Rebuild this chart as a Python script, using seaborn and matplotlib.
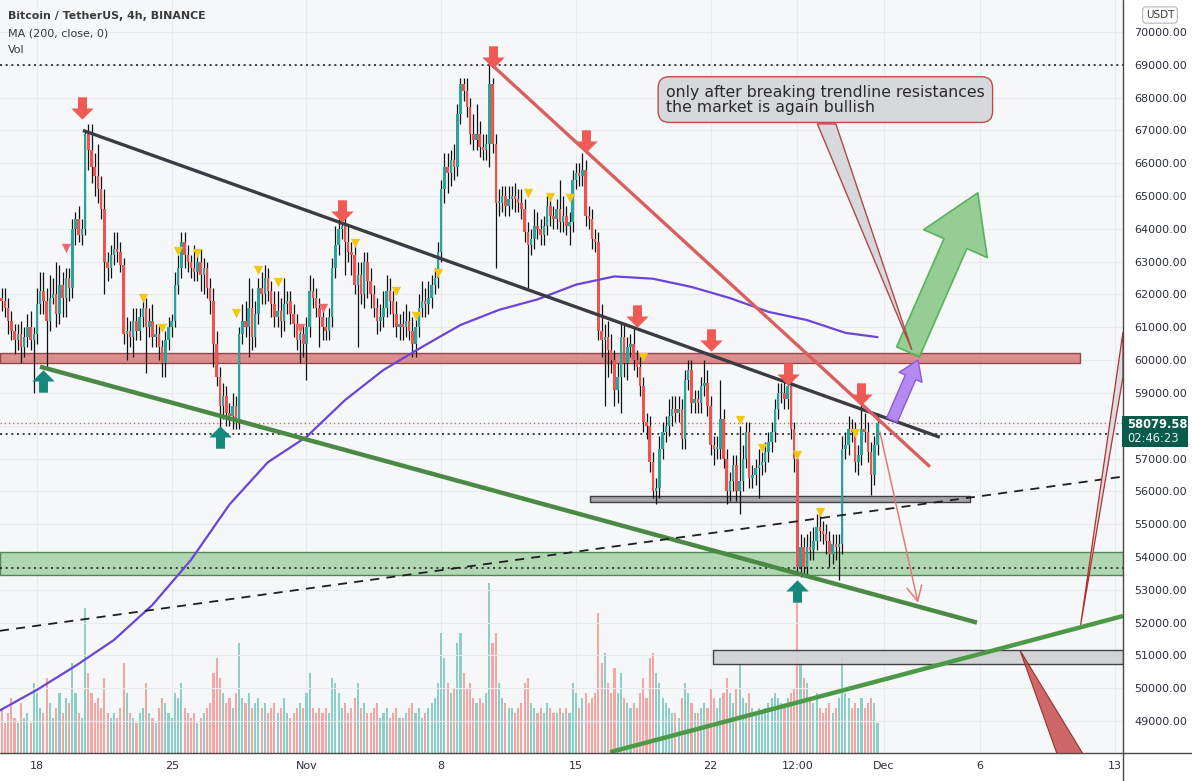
import numpy as np
import pandas as pd
import matplotlib
matplotlib.use('Agg')
import matplotlib.pyplot as plt
import matplotlib.dates as mdates
from matplotlib.path import Path
from matplotlib.patches import Polygon
from matplotlib.transforms import Bbox, TransformedBbox
import seaborn as sns

# ---------------- data (prices in thousands of USDT) ----------------
closes = [
    61.8, 61.6, 61.2, 60.9, 60.6, 60.8, 60.4, 60.7, 61.0, 60.6,
    60.8, 61.7, 62.1, 61.8, 61.2, 61.9, 62.0, 61.4, 62.3, 61.9,
    62.5, 62.2, 64.0, 64.3, 63.8, 64.0, 66.9, 66.4, 65.9, 65.6,
    65.2, 64.6, 63.0, 62.8, 63.2,
    63.4, 63.3, 62.9, 60.8, 60.9, 60.7, 61.2, 60.9, 61.3, 61.6,
    61.0, 61.2, 60.7, 60.8, 60.4, 59.9, 60.6, 61.0, 61.2, 62.3,
    62.8, 63.6, 63.2, 63.0, 62.8, 62.7, 63.0, 62.6, 62.8, 62.2,
    61.8, 60.5, 59.5, 58.6, 58.9, 58.4,
    58.3, 58.6, 58.2, 60.8, 61.2, 61.0, 61.6, 60.7, 61.4, 62.2,
    62.0, 62.5, 62.1, 61.7, 61.3, 61.5, 61.2, 61.7, 61.8, 61.4,
    61.1, 60.6, 60.8, 60.5, 61.0, 62.1, 61.9, 61.6, 61.3, 61.0,
    60.9, 61.3, 62.8, 63.5,
    64.0, 64.1, 63.6, 63.3, 63.2, 62.3, 62.6, 62.0, 63.0, 62.4,
    62.0, 61.6, 61.2, 61.3, 61.6, 62.1, 61.8, 61.4, 61.0, 61.1,
    61.0, 61.2, 60.9, 60.5, 61.0, 61.6, 61.8, 61.7, 61.9, 62.3,
    62.5, 63.3, 65.2, 65.9,
    65.7, 66.1, 65.9, 67.5, 68.4, 68.2, 67.7, 66.9, 66.7, 66.9,
    66.5, 66.4, 66.6, 68.4, 66.6, 64.8, 64.8, 65.0, 64.7, 64.9,
    65.0, 64.9, 64.8, 64.6, 63.9, 63.5, 63.7, 64.1, 64.0, 63.8,
    64.1, 64.7, 64.4, 64.3,
    64.6, 64.2, 64.4, 64.1, 64.2, 65.5, 65.7, 65.6, 65.8, 64.4,
    64.3, 63.7, 63.6, 60.9, 60.6, 60.7, 60.3, 60.0, 59.1, 59.5,
    60.7, 59.9, 60.4, 60.5, 60.0, 59.8, 59.2, 58.1, 58.0, 56.9,
    56.0, 56.1, 57.3, 57.8,
    58.0, 58.3, 58.5, 58.4, 58.5, 57.6, 59.4, 59.7, 58.7, 58.8,
    58.7, 59.2, 59.3, 58.6, 57.4, 57.3, 57.3, 58.2, 57.0, 56.0,
    56.3, 56.8, 56.0, 56.3, 57.0, 57.8, 56.4, 56.5, 56.7, 56.8,
    56.9, 57.2, 57.5, 57.8,
    58.5, 59.0, 59.0, 58.8, 59.2, 57.9, 57.0, 53.7, 54.3, 53.7,
    54.3, 54.2, 54.5, 54.9, 54.8, 54.7, 54.5, 54.1, 54.4, 54.3,
    54.4, 57.3, 57.4, 57.9, 57.8, 56.9, 57.1, 57.9, 57.8, 57.2,
    56.5, 57.4, 58.07958,
]
upper_wicks = [
    0.3, 0.4, 0.3, 0.3, 0.2, 0.3, 0.4, 0.3, 0.4, 0.5,
    0.2, 0.5, 0.6, 0.6, 0.4, 0.7, 0.5, 1.0, 0.6, 0.4,
    0.3, 0.3, 0.3, 0.2, 0.4, 0.3, 0.1, 0.3, 0.8, 0.4,
    1.0, 0.4, 0.6, 0.3, 0.3,
    0.5, 0.5, 0.3, 0.2, 0.4, 0.3, 0.4, 0.4, 0.3, 0.3,
    0.3, 0.4, 0.5, 0.3, 0.3, 0.2, 0.3, 0.3, 0.2, 0.4,
    0.4, 0.3, 0.3, 0.3, 0.2, 0.7, 0.3, 0.4, 0.3, 0.2,
    0.3, 0.4, 0.4, 0.3, 0.4, 0.3,
    0.3, 0.4, 0.3, 0.2, 0.5, 0.6, 0.9, 0.6, 0.4, 0.3,
    0.5, 0.4, 0.3, 0.3, 0.4, 0.6, 0.4, 0.8, 0.3, 0.3,
    0.3, 0.3, 0.3, 0.3, 0.3, 0.5, 0.4, 0.3, 0.3, 0.3,
    0.3, 0.3, 0.3, 0.6,
    0.3, 0.2, 0.3, 0.5, 0.3, 0.4, 0.4, 0.4, 0.3, 0.3,
    0.4, 0.3, 0.3, 0.4, 0.5, 0.5, 0.4, 0.3, 0.4, 0.3,
    0.4, 0.5, 0.3, 0.4, 0.3, 0.4, 0.6, 0.4, 0.5, 0.3,
    0.3, 0.3, 0.3, 0.4,
    0.4, 0.3, 0.5, 0.3, 0.2, 0.2, 0.4, 0.3, 0.6, 0.9,
    0.4, 0.4, 0.3, 0.6, 0.2, 0.3, 0.4, 0.3, 0.3, 0.4,
    0.3, 0.4, 0.3, 0.4, 0.3, 0.3, 0.3, 0.5, 0.4, 0.3,
    0.3, 0.3, 0.3, 0.3,
    0.3, 0.9, 0.6, 0.3, 0.3, 0.3, 0.3, 0.3, 0.5, 0.3,
    0.3, 0.3, 0.3, 0.3, 0.8, 0.4, 0.5, 0.5, 0.3, 0.4,
    0.4, 0.4, 0.3, 0.3, 0.5, 0.3, 0.3, 0.3, 0.3, 0.3,
    0.3, 0.3, 0.4, 0.3,
    0.3, 0.5, 0.4, 0.4, 0.4, 0.3, 0.3, 0.3, 0.3, 0.3,
    0.3, 0.3, 0.7, 0.4, 0.3, 0.3, 0.4, 1.2, 0.3, 0.3,
    0.3, 0.3, 0.3, 1.7, 0.4, 0.3, 0.3, 0.3, 0.3, 0.5,
    0.3, 0.3, 0.3, 0.3,
    0.3, 0.3, 0.3, 0.5, 0.3, 0.3, 0.2, 0.2, 0.4, 0.3,
    0.4, 0.5, 0.4, 0.4, 0.4, 0.3, 0.3, 0.3, 0.3, 0.3,
    0.3, 0.4, 0.4, 0.4, 0.3, 0.3, 0.3, 1.0, 0.5, 0.3,
    0.3, 0.3, 0.3,
]
lower_wicks = [
    0.3, 0.3, 0.4, 0.3, 0.4, 0.3, 0.5, 0.3, 0.3, 0.3,
    1.6, 0.3, 0.3, 0.4, 1.4, 0.3, 0.2, 0.4, 0.3, 0.6,
    0.6, 0.4, 0.3, 0.5, 0.2, 0.3, 0.2, 0.6, 0.5, 0.6,
    0.4, 0.3, 1.0, 0.4, 0.3,
    0.3, 0.3, 0.2, 0.3, 0.8, 0.3, 0.6, 0.3, 0.3, 0.3,
    1.4, 0.3, 0.3, 0.3, 0.4, 0.4, 0.4, 0.3, 0.3, 0.2,
    0.3, 0.3, 0.4, 0.3, 0.3, 0.3, 0.3, 0.5, 0.6, 0.3,
    0.4, 0.7, 0.3, 0.7, 0.4, 0.4,
    0.3, 0.4, 0.3, 0.3, 0.3, 0.3, 0.9, 0.4, 0.3, 0.3,
    0.3, 0.3, 0.3, 0.4, 0.3, 0.3, 0.5, 0.3, 0.3, 0.3,
    0.4, 0.3, 0.7, 0.4, 1.1, 0.3, 0.3, 0.3, 0.9, 0.4,
    0.3, 0.3, 0.3, 0.3,
    0.3, 0.3, 1.0, 0.3, 0.6, 0.3, 1.9, 0.3, 0.4, 0.5,
    0.4, 0.3, 0.4, 0.3, 0.3, 0.3, 0.4, 0.4, 0.3, 0.4,
    0.4, 0.3, 0.3, 0.4, 0.4, 0.3, 0.3, 0.4, 0.3, 0.3,
    0.3, 0.3, 0.3, 0.4,
    0.6, 0.4, 0.4, 0.3, 0.3, 0.3, 0.3, 0.3, 0.3, 0.3,
    0.3, 0.3, 0.3, 0.7, 0.3, 2.0, 0.4, 0.3, 0.3, 0.3,
    0.3, 0.4, 0.3, 0.3, 0.3, 1.3, 0.3, 0.3, 0.3, 0.3,
    0.3, 0.3, 0.3, 0.3,
    0.3, 0.3, 0.3, 0.3, 0.6, 0.3, 0.3, 0.3, 0.3, 0.3,
    0.3, 0.3, 0.3, 0.3, 0.5, 2.0, 0.8, 0.4, 0.5, 0.4,
    1.1, 0.4, 0.5, 0.3, 0.3, 0.3, 0.3, 0.3, 0.4, 0.3,
    0.2, 0.4, 0.3, 0.3,
    0.3, 0.3, 0.3, 0.3, 0.3, 0.3, 0.3, 0.3, 0.3, 0.3,
    0.3, 0.3, 0.3, 0.3, 0.3, 0.5, 0.3, 0.3, 0.3, 0.4,
    0.3, 0.3, 0.3, 0.7, 0.3, 0.3, 0.3, 0.3, 0.3, 0.9,
    0.3, 0.3, 0.3, 0.3,
    0.3, 0.3, 0.3, 0.3, 0.3, 0.3, 0.4, 0.2, 0.3, 0.2,
    0.3, 0.3, 0.3, 0.3, 0.3, 0.3, 0.4, 0.4, 0.3, 0.4,
    1.0, 0.3, 0.3, 0.3, 0.3, 0.3, 0.4, 0.3, 0.3, 0.3,
    0.6, 0.3, 0.3,
]
volumes = [
    45, 30, 40, 55, 35, 30, 50, 35, 40, 30,
    70, 60, 45, 40, 75, 50, 35, 45, 60, 40,
    55, 50, 90, 60, 40, 35, 145, 80, 60, 50,
    55, 45, 75, 40, 35,
    40, 35, 45, 90, 60, 40, 35, 30, 40, 45,
    70, 40, 35, 30, 45, 55, 50, 40, 35, 60,
    55, 70, 45, 40, 35, 40, 30, 35, 40, 45,
    50, 80, 95, 75, 60, 50,
    55, 45, 60, 110, 55, 50, 60, 45, 50, 55,
    45, 50, 40, 45, 50, 40, 45, 55, 40, 35,
    40, 45, 50, 45, 60, 80, 45, 40, 45, 40,
    45, 40, 75, 70,
    60, 45, 50, 40, 45, 55, 70, 45, 50, 40,
    40, 45, 50, 35, 40, 45, 35, 40, 45, 35,
    35, 40, 45, 50, 40, 45, 35, 40, 45, 50,
    55, 70, 120, 95,
    70, 60, 65, 110, 120, 80, 65, 70, 55, 50,
    55, 50, 60, 170, 110, 120, 70, 55, 50, 45,
    45, 40, 45, 50, 70, 75, 50, 45, 40, 45,
    40, 50, 45, 40,
    40, 45, 40, 45, 40, 70, 60, 45, 55, 60,
    50, 55, 60, 140, 90, 100, 70, 60, 85, 60,
    80, 55, 50, 45, 50, 45, 60, 75, 55, 95,
    100, 80, 70, 55,
    50, 45, 40, 40, 35, 55, 70, 60, 50, 40,
    40, 45, 50, 45, 65, 55, 45, 55, 60, 75,
    60, 50, 65, 90, 55, 50, 60, 45, 40, 45,
    40, 45, 50, 55,
    60, 55, 50, 45, 55, 60, 65, 170, 90, 75,
    70, 55, 50, 60, 45, 40, 45, 50, 40, 45,
    55, 95, 60, 55, 45, 50, 45, 55, 45, 50,
    55, 50, 30,
]
first_open = 61.9
last_bar = '2021-11-30 16:00'

ma_dates = ['2021-10-16', '2021-10-18', '2021-10-20', '2021-10-22', '2021-10-24',
            '2021-10-26', '2021-10-28', '2021-10-30', '2021-11-01', '2021-11-03',
            '2021-11-05', '2021-11-07', '2021-11-09', '2021-11-11', '2021-11-13',
            '2021-11-15', '2021-11-17', '2021-11-19', '2021-11-21', '2021-11-23',
            '2021-11-25', '2021-11-27', '2021-11-29', '2021-11-30 16:00']
ma_values = [49.30, 49.95, 50.68, 51.47, 52.54, 53.91, 55.60, 56.89, 57.66, 58.78,
             59.70, 60.40, 61.07, 61.53, 61.85, 62.30, 62.55, 62.48, 62.23, 61.89,
             61.47, 61.22, 60.83, 60.70]

# signal markers: bar index + price level
sell_arrow_idx = [25, 106, 153, 182, 198, 221, 245, 268]
sell_arrow_price = [67.68, 64.54, 69.24, 66.68, 61.34, 60.61, 59.58, 58.97]
buy_arrow_idx = [13, 68, 248]
buy_arrow_price = [59.36, 57.66, 52.96]
yellow_idx = [44, 50, 55, 61, 73, 80, 86, 110, 123, 129, 136, 164, 171, 177,
              200, 230, 237, 248, 255, 266]
yellow_price = [61.89, 60.98, 63.33, 63.26, 61.44, 62.75, 62.38, 63.57, 62.11, 61.34,
                62.65, 65.09, 64.97, 64.94, 60.09, 58.17, 57.32, 57.11, 55.37, 57.78]
pink_idx = [20, 93, 100]
pink_price = [63.42, 60.98, 61.59]

# drawings (date, price)
black_trend = (['2021-10-20 09:20', '2021-12-03 21:40'], [67.0, 57.65])
red_trend = (['2021-11-10 12:45', '2021-12-03 09:20'], [69.05, 56.75])
green_trend = (['2021-10-18 03:45', '2021-12-05 20:00'], [59.8, 52.0])
green_bottom = (['2021-11-16 18:30', '2021-12-13 10:00'], [48.05, 52.2])
dashed_trend = (['2021-10-16 01:50', '2021-12-13 10:00'], [51.75, 56.45])

red_zone = ('2021-10-16 01:50', '2021-12-11 04:20', 59.9, 60.22)
green_zone = ('2021-10-16 01:50', '2021-12-13 10:00', 53.45, 54.15)
gray_zone1 = ('2021-11-15 17:30', '2021-12-05 11:15', 55.68, 55.86)
gray_zone2 = ('2021-11-22 03:00', '2021-12-13 10:00', 50.74, 51.16)
dotted_levels = [69.0, 53.66, 57.75]
last_price = 58.07958

note_text = "only after breaking trendline resistances\nthe market is again bullish"
note_tail = (['2021-11-27 13:00', '2021-11-28 12:00', '2021-12-02 10:50'], [67.2, 67.2, 60.31])
right_tail = (['2021-12-11 05:15', '2021-12-13 10:05', '2021-12-13 10:05'], [51.93, 60.86, 59.49])
bottom_tail = (['2021-12-08 01:30', '2021-12-09 23:45', '2021-12-11 08:10'], [51.16, 48.0, 48.0])

x_start, x_end = '2021-10-16 01:52', '2021-12-13 10:05'
y_low, y_high = 48.025, 70.975
tick_dates = ['2021-10-18', '2021-10-25', '2021-11-01', '2021-11-08', '2021-11-15',
              '2021-11-22', '2021-11-26 12:00', '2021-12-01', '2021-12-06', '2021-12-13']
tick_labels = ['18', '25', 'Nov', '8', '15', '22', '12:00', 'Dec', '6', '13']
price_ticks = list(range(49, 71))

# ---------------- figure ----------------
sns.set_theme(style='white')
plt.rcParams['font.family'] = ['DejaVu Sans']

UP, DOWN = '#26a69a', '#ef5350'
W, H = 1192, 781
fig = plt.figure(figsize=(W / 100, H / 100), dpi=100)
fig.patch.set_facecolor('white')
axv = fig.add_axes([0, 28 / H, 1123 / W, 753 / H])
ax = axv.twinx()
axv.set_facecolor('#f6f7f9')

def dn(s):
    return mdates.date2num(pd.Timestamp(s))

n = len(closes)
dates = pd.date_range(end=last_bar, periods=n, freq='4h')
xs = mdates.date2num(dates)
c = np.array(closes)
o = np.array([first_open] + closes[:-1])
hi = np.maximum(o, c) + np.array(upper_wicks)
lo = np.minimum(o, c) - np.array(lower_wicks)
is_up = c >= o
cols = np.where(is_up, UP, DOWN)

df = pd.DataFrame({'x': xs, 'open': o, 'close': c, 'high': hi, 'low': lo,
                   'volume': volumes, 'up': is_up})

# volume (background axis)
vcols = np.where(is_up, '#8ccfc6', '#f4a6a4')
axv.bar(df['x'], df['volume'], width=0.11, color=vcols, linewidth=0)
axv.set_ylim(0, 753)
axv.set_yticks([])

# grid
for t in tick_dates:
    axv.axvline(dn(t), color='#e8eaee', lw=0.8, zorder=0)
for p in price_ticks:
    ax.axhline(p, color='#e8eaee', lw=0.8, zorder=0)

# zones
def zone(z, fc, ec, alpha):
    x0, x1, p0, p1 = z
    ax.fill_between([dn(x0), dn(x1)], p0, p1, facecolor=fc, edgecolor=ec,
                    alpha=alpha, lw=1.0, zorder=1)

zone(red_zone, '#d46a6a', '#7a1f1f', 0.75)
zone(green_zone, '#9fd0a0', '#2f6f33', 0.8)
zone(gray_zone1, '#9e9ea3', '#303033', 0.9)
zone(gray_zone2, '#cfd0d3', '#303033', 0.9)

for lv in dotted_levels:
    ax.axhline(lv, color='#222222', lw=1.2, ls=(0, (1.2, 2.2)), zorder=2)
ax.axhline(last_price, color='#e06060', lw=1.0, ls=(0, (1, 2)), zorder=2)

# candles
ax.vlines(df['x'], df['low'], df['high'], color='#111111', lw=0.9, zorder=3)
body = np.maximum(np.abs(c - o), 0.04)
ax.bar(df['x'], body, bottom=np.minimum(o, c), width=0.13, color=cols, linewidth=0, zorder=3.5)

# MA 200
sns.lineplot(x=[dn(t) for t in ma_dates], y=ma_values, ax=ax, color='#6a45d6',
             lw=1.6, zorder=4)

# trend lines
def tline(tl, **kw):
    ax.plot([dn(t) for t in tl[0]], tl[1], solid_capstyle='butt', **kw)

tline(black_trend, color='#3b3b44', lw=2.4, zorder=5)
tline(red_trend, color='#d95f5f', lw=2.4, zorder=5)
tline(green_trend, color='#4a8a45', lw=3.2, zorder=5)
tline(green_bottom, color='#4c9a48', lw=3.2, zorder=5)
tline(dashed_trend, color='#1e1e1e', lw=1.3, ls=(0, (5, 4)), zorder=5)

# block arrow markers
down_arrow = Path([(-0.2, 0.5), (0.2, 0.5), (0.2, 0.0), (0.5, 0.0), (0.0, -0.5),
                   (-0.5, 0.0), (-0.2, 0.0), (-0.2, 0.5)], closed=True)
up_arrow = Path([(-0.2, -0.5), (0.2, -0.5), (0.2, 0.0), (0.5, 0.0), (0.0, 0.5),
                 (-0.5, 0.0), (-0.2, 0.0), (-0.2, -0.5)], closed=True)
ax.scatter(xs[sell_arrow_idx], sell_arrow_price, marker=down_arrow, s=260,
           color='#ef5a55', linewidths=0, zorder=7)
ax.scatter(xs[buy_arrow_idx], buy_arrow_price, marker=up_arrow, s=260,
           color='#14897b', linewidths=0, zorder=7)
ax.scatter(xs[yellow_idx], yellow_price, marker='v', s=45, color='#f2c80f',
           linewidths=0, zorder=7)
ax.scatter(xs[pink_idx], pink_price, marker='v', s=45, color='#ef6a6a',
           linewidths=0, zorder=7)

# arrows on the right
ax.annotate('', xy=(dn('2021-12-02 18:30'), 52.6), xytext=(dn('2021-11-30 19:00'), 57.81),
            arrowprops=dict(arrowstyle='->,head_length=0.9,head_width=0.45', color='#e27a7a',
                            lw=1.1, shrinkA=0, shrinkB=0), zorder=6)
ax.annotate('', xy=(dn('2021-12-02 18:30'), 60.0), xytext=(dn('2021-12-01 10:00'), 58.17),
            arrowprops=dict(arrowstyle='simple,head_length=0.9,head_width=1.2,tail_width=0.55',
                            fc='#b48af0', ec='#8b5cd6', lw=1, mutation_scale=15,
                            shrinkA=0, shrinkB=0), zorder=6)
ax.annotate('', xy=(dn('2021-12-05 21:00'), 65.1), xytext=(dn('2021-12-02 06:00'), 60.25),
            arrowprops=dict(arrowstyle='simple,head_length=1.0,head_width=1.25,tail_width=0.45',
                            fc='#8cc98a', ec='#4caf50', lw=1.2, alpha=0.9, mutation_scale=40,
                            shrinkA=0, shrinkB=0), zorder=6)

# callout tail + note box
def poly(pts, **kw):
    ax.add_patch(Polygon(list(zip([dn(t) for t in pts[0]], pts[1])), closed=True, **kw))

poly(note_tail, fc='#d6d8db', ec='#b04848', lw=1.0, zorder=8)
ax.text(dn('2021-11-27 23:00'), 67.94, note_text, ha='center', va='center',
        multialignment='left', fontsize=11.3, color='#2a2a2a', linespacing=1.0,
        zorder=9, bbox=dict(boxstyle='round,pad=0.5,rounding_size=0.7', fc='#d6d8db',
                            ec='#c24c4c', lw=1.0))

# red callout pieces on the right
poly(right_tail, fc='#dcdde0', ec='#b03030', lw=0.9, zorder=6, clip_on=False)
poly(bottom_tail, fc='#c84f4f', ec='#8a2020', alpha=0.85, lw=0.8, zorder=6)

# axes limits / ticks
ax.set_xlim(dn(x_start), dn(x_end))
ax.set_ylim(y_low, y_high)
ax.set_yticks(price_ticks)
ax.set_yticklabels(['' if p == 58 else f'{p * 1000:.2f}' for p in price_ticks])
ax.tick_params(axis='y', length=0, pad=8, labelsize=8, labelcolor='#2a2e39')
axv.set_xticks([dn(t) for t in tick_dates])
axv.set_xticklabels(tick_labels)
axv.tick_params(axis='x', length=0, pad=6, labelsize=8, labelcolor='#2a2e39')
ax.tick_params(axis='x', length=0)
ax.set_xlabel('')
ax.set_ylabel('')
for a in (ax, axv):
    for s in a.spines.values():
        s.set_visible(False)

# clip x tick labels at the price-scale border
clip_box = TransformedBbox(Bbox([[0, 0], [1123 / W, 1]]), fig.transFigure)
for lbl in axv.get_xticklabels():
    lbl.set_clip_on(True)
    lbl.set_clip_box(clip_box)

# frame lines
fig.add_artist(plt.Line2D([0, 1], [28 / H, 28 / H], color='#4a4a4a', lw=1.0))
fig.add_artist(plt.Line2D([1123 / W, 1123 / W], [0, 1], color='#4a4a4a', lw=1.0))

# legend texts
fig.text(8 / W, 1 - 16 / H, 'Bitcoin / TetherUS, 4h, BINANCE', fontsize=7.9,
         fontweight='semibold', color='#3a3a3a', va='center')
fig.text(8 / W, 1 - 33 / H, 'MA (200, close, 0)', fontsize=8, color='#3a3a3a', va='center')
fig.text(8 / W, 1 - 50 / H, 'Vol', fontsize=8, color='#3a3a3a', va='center')

# USDT box
fig.text(1160 / W, 1 - 15 / H, 'USDT', fontsize=7.5, color='#3a3a3a', ha='center', va='center',
         bbox=dict(boxstyle='round,pad=0.3', fc='white', ec='#b2b5be', lw=0.8))

# price tag
fig.patches.append(plt.Rectangle((1122 / W, 1 - 447 / H), 66 / W, 31 / H,
                                 transform=fig.transFigure, fc='#0a5b4d', ec='none',
                                 figure=fig, zorder=10))
fig.text(1127 / W, 1 - 424 / H, f'{last_price * 1000:.2f}', fontsize=8.3, fontweight='bold',
         color='white', va='center', zorder=11)
fig.text(1127 / W, 1 - 438 / H, '02:46:23', fontsize=8.3, color='#e6f2ef', va='center', zorder=11)

fig.savefig('out.png', dpi=100, facecolor='white')
